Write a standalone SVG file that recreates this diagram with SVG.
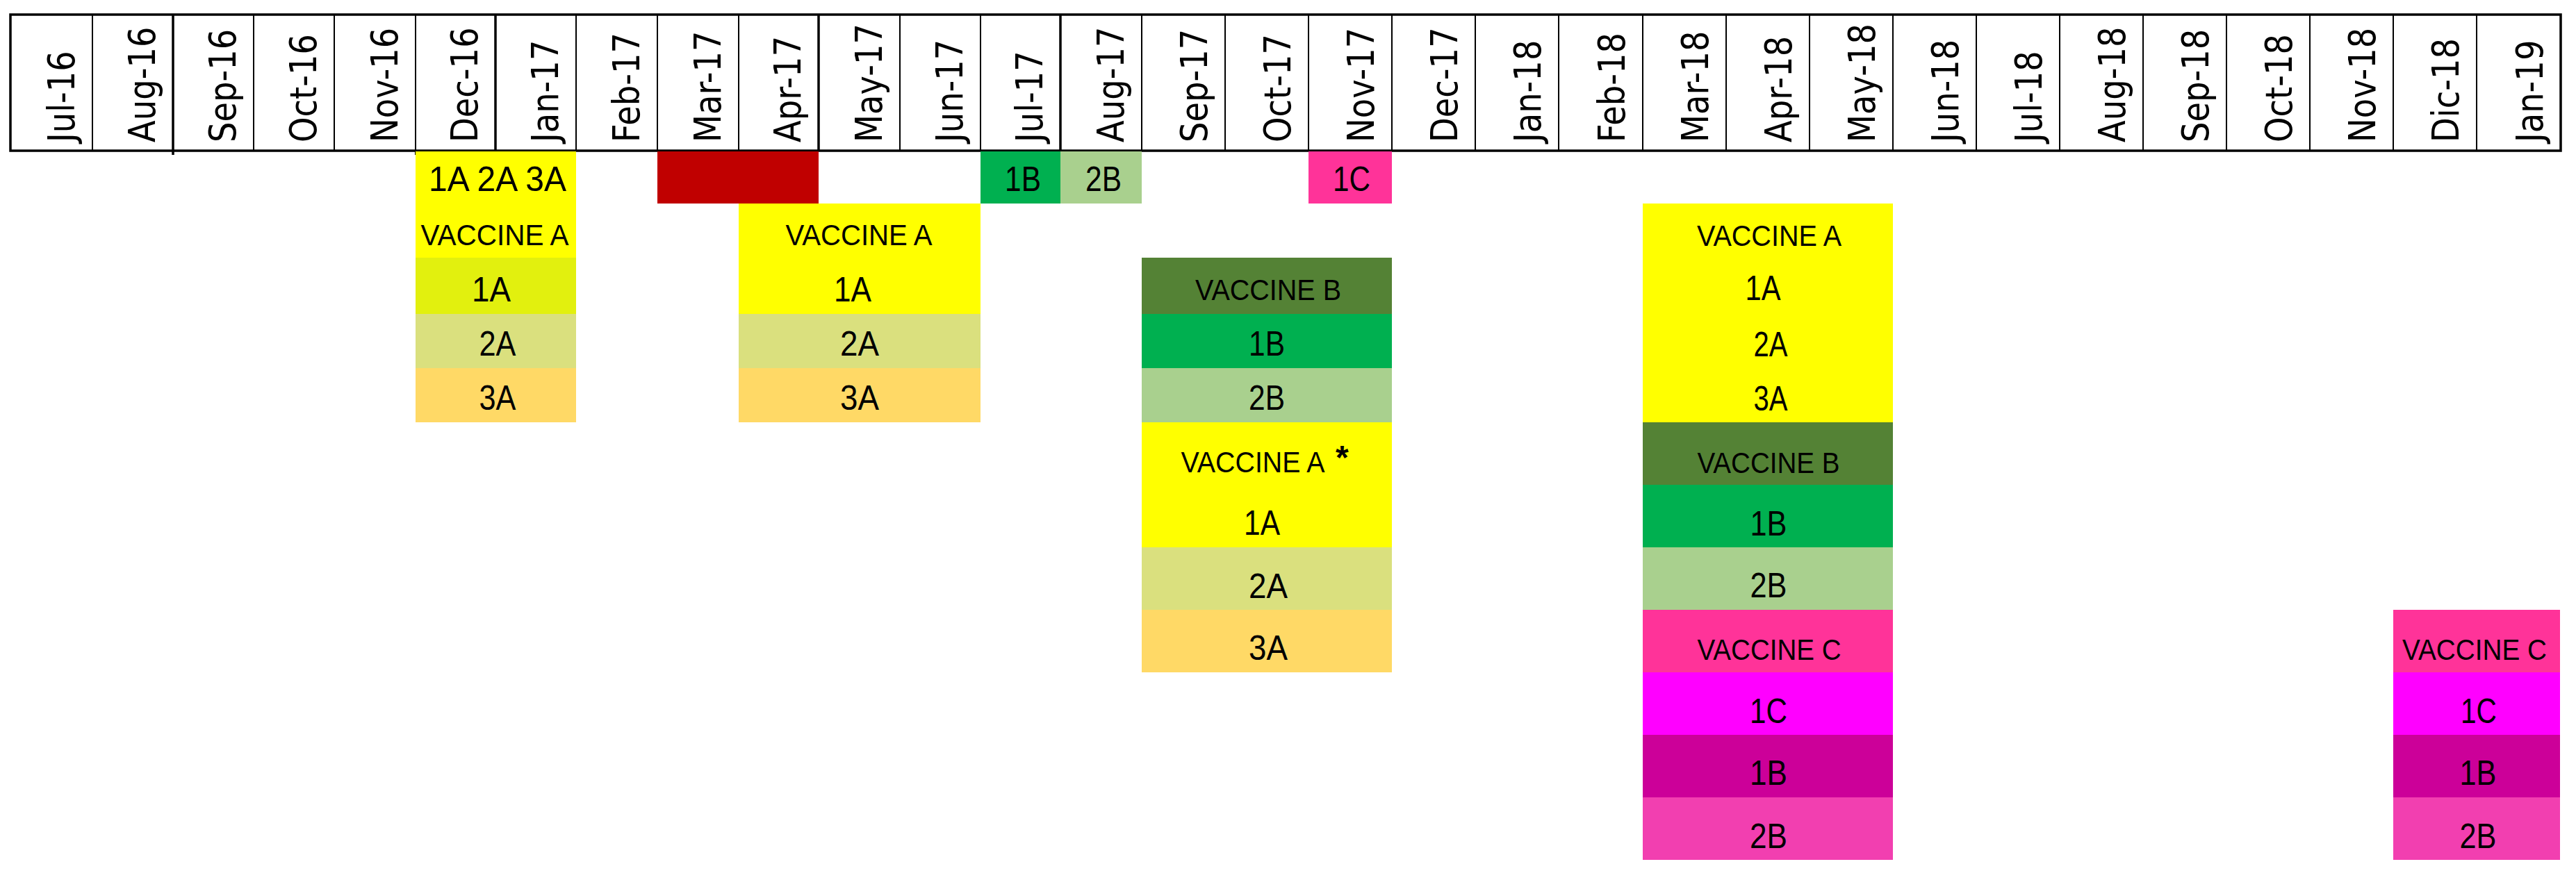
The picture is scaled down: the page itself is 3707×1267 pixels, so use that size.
<svg xmlns="http://www.w3.org/2000/svg" width="3707" height="1267" viewBox="0 0 3707 1267">
<style>
.m{font-family:"DejaVu Sans","Verdana",sans-serif;font-size:54px;fill:#000}
.v{font-family:"Liberation Sans",Arial,sans-serif;font-size:42px;fill:#000;text-anchor:middle}
.d{font-family:"Liberation Sans",Arial,sans-serif;font-size:50px;fill:#000;text-anchor:middle}
.ast{font-family:"Liberation Sans",Arial,sans-serif;font-size:48px;font-weight:bold;fill:#000}
.g{stroke:#000;stroke-width:2;fill:none}
.gt{stroke:#000;stroke-width:3.5;fill:none}
.Y{fill:#FFFF00}.Y1{fill:#E2F00E}.A2{fill:#DAE07E}.A3{fill:#FFD966}
.R{fill:#C00000}.B1{fill:#00B050}.B2{fill:#A9D08E}.VB{fill:#548235}
.P{fill:#FF3399}.M{fill:#FF00FF}.DM{fill:#CC0099}.LP{fill:#F23FB0}
</style>
<rect width="3707" height="1267" fill="#fff"/>

<g id="header">
  <g class="g">
    <line x1="133" y1="21" x2="133" y2="217"/>
    <line x1="365" y1="21" x2="365" y2="217"/>
    <line x1="481" y1="21" x2="481" y2="217"/>
    <line x1="598" y1="21" x2="598" y2="217"/>
    <line x1="829" y1="21" x2="829" y2="217"/>
    <line x1="946" y1="21" x2="946" y2="217"/>
    <line x1="1063" y1="21" x2="1063" y2="217"/>
    <line x1="1295" y1="21" x2="1295" y2="217"/>
    <line x1="1411" y1="21" x2="1411" y2="217"/>
    <line x1="1643" y1="21" x2="1643" y2="217"/>
    <line x1="1763" y1="21" x2="1763" y2="217"/>
    <line x1="1883" y1="21" x2="1883" y2="217"/>
    <line x1="2003" y1="21" x2="2003" y2="217"/>
    <line x1="2123" y1="21" x2="2123" y2="217"/>
    <line x1="2243" y1="21" x2="2243" y2="217"/>
    <line x1="2364" y1="21" x2="2364" y2="217"/>
    <line x1="2484" y1="21" x2="2484" y2="217"/>
    <line x1="2604" y1="21" x2="2604" y2="217"/>
    <line x1="2724" y1="21" x2="2724" y2="217"/>
    <line x1="2844" y1="21" x2="2844" y2="217"/>
    <line x1="2964" y1="21" x2="2964" y2="217"/>
    <line x1="3084" y1="21" x2="3084" y2="217"/>
    <line x1="3204" y1="21" x2="3204" y2="217"/>
    <line x1="3324" y1="21" x2="3324" y2="217"/>
    <line x1="3444" y1="21" x2="3444" y2="217"/>
    <line x1="3564" y1="21" x2="3564" y2="217"/>
    <line x1="598" y1="217" x2="598" y2="223"/>
    <line x1="1063" y1="217" x2="1063" y2="223"/>
  </g>
  <g class="gt">
    <line x1="249" y1="21" x2="249" y2="223"/>
    <line x1="713" y1="21" x2="713" y2="223"/>
    <line x1="1178" y1="21" x2="1178" y2="217"/>
    <line x1="1526" y1="21" x2="1526" y2="223"/>
    <rect x="15" y="21" width="3670" height="196"/>
  </g>
  <g id="months">
    <text class="m" transform="translate(107,205) rotate(-90) scale(0.86,1)">Jul-16</text>
    <text class="m" transform="translate(223,205) rotate(-90) scale(0.86,1)">Aug-16</text>
    <text class="m" transform="translate(339,205) rotate(-90) scale(0.86,1)">Sep-16</text>
    <text class="m" transform="translate(455,205) rotate(-90) scale(0.86,1)">Oct-16</text>
    <text class="m" transform="translate(572,205) rotate(-90) scale(0.86,1)">Nov-16</text>
    <text class="m" transform="translate(687,205) rotate(-90) scale(0.86,1)">Dec-16</text>
    <text class="m" transform="translate(803,205) rotate(-90) scale(0.86,1)">Jan-17</text>
    <text class="m" transform="translate(920,205) rotate(-90) scale(0.86,1)">Feb-17</text>
    <text class="m" transform="translate(1037,205) rotate(-90) scale(0.86,1)">Mar-17</text>
    <text class="m" transform="translate(1152,205) rotate(-90) scale(0.86,1)">Apr-17</text>
    <text class="m" transform="translate(1269,205) rotate(-90) scale(0.86,1)">May-17</text>
    <text class="m" transform="translate(1385,205) rotate(-90) scale(0.86,1)">Jun-17</text>
    <text class="m" transform="translate(1500,205) rotate(-90) scale(0.86,1)">Jul-17</text>
    <text class="m" transform="translate(1617,205) rotate(-90) scale(0.86,1)">Aug-17</text>
    <text class="m" transform="translate(1737,205) rotate(-90) scale(0.86,1)">Sep-17</text>
    <text class="m" transform="translate(1857,205) rotate(-90) scale(0.86,1)">Oct-17</text>
    <text class="m" transform="translate(1977,205) rotate(-90) scale(0.86,1)">Nov-17</text>
    <text class="m" transform="translate(2097,205) rotate(-90) scale(0.86,1)">Dec-17</text>
    <text class="m" transform="translate(2217,205) rotate(-90) scale(0.86,1)">Jan-18</text>
    <text class="m" transform="translate(2338,205) rotate(-90) scale(0.86,1)">Feb-18</text>
    <text class="m" transform="translate(2458,205) rotate(-90) scale(0.86,1)">Mar-18</text>
    <text class="m" transform="translate(2578,205) rotate(-90) scale(0.86,1)">Apr-18</text>
    <text class="m" transform="translate(2698,205) rotate(-90) scale(0.86,1)">May-18</text>
    <text class="m" transform="translate(2818,205) rotate(-90) scale(0.86,1)">Jun-18</text>
    <text class="m" transform="translate(2938,205) rotate(-90) scale(0.86,1)">Jul-18</text>
    <text class="m" transform="translate(3058,205) rotate(-90) scale(0.86,1)">Aug-18</text>
    <text class="m" transform="translate(3178,205) rotate(-90) scale(0.86,1)">Sep-18</text>
    <text class="m" transform="translate(3298,205) rotate(-90) scale(0.86,1)">Oct-18</text>
    <text class="m" transform="translate(3418,205) rotate(-90) scale(0.86,1)">Nov-18</text>
    <text class="m" transform="translate(3538,205) rotate(-90) scale(0.86,1)">Dic-18</text>
    <text class="m" transform="translate(3659,205) rotate(-90) scale(0.86,1)">Jan-19</text>
  </g>
</g>

<g id="connectors"></g>

<g id="row1-1A2A3A"><rect class="Y" x="598" y="218" width="231" height="75"/><text class="d" x="716" y="275" textLength="198" lengthAdjust="spacingAndGlyphs">1A 2A 3A</text></g>
<g id="row1-red"><rect class="R" x="946" y="218" width="232" height="75"/></g>
<g id="row1-1B"><rect class="B1" x="1411" y="218" width="115" height="75"/><text class="d" x="1472" y="275" textLength="52" lengthAdjust="spacingAndGlyphs">1B</text></g>
<g id="row1-2B"><rect class="B2" x="1526" y="218" width="117" height="75"/><text class="d" x="1588" y="275" textLength="52" lengthAdjust="spacingAndGlyphs">2B</text></g>
<g id="row1-1C"><rect class="P" x="1883" y="218" width="120" height="75"/><text class="d" x="1945" y="275" textLength="54" lengthAdjust="spacingAndGlyphs">1C</text></g>

<g id="col-dec16">
  <rect class="Y" x="598" y="293" width="231" height="78"/>
  <text class="v" x="712" y="353" textLength="213" lengthAdjust="spacingAndGlyphs">VACCINE A</text>
  <rect class="Y1" x="598" y="371" width="231" height="81"/>
  <text class="d" x="707" y="434" textLength="56" lengthAdjust="spacingAndGlyphs">1A</text>
  <rect class="A2" x="598" y="452" width="231" height="78"/>
  <text class="d" x="716" y="512" textLength="53" lengthAdjust="spacingAndGlyphs">2A</text>
  <rect class="A3" x="598" y="530" width="231" height="78"/>
  <text class="d" x="716" y="590" textLength="53" lengthAdjust="spacingAndGlyphs">3A</text>
</g>

<g id="col-apr17">
  <rect class="Y" x="1063" y="293" width="348" height="159"/>
  <text class="v" x="1236" y="353" textLength="211" lengthAdjust="spacingAndGlyphs">VACCINE A</text>
  <text class="d" x="1227" y="434" textLength="54" lengthAdjust="spacingAndGlyphs">1A</text>
  <rect class="A2" x="1063" y="452" width="348" height="78"/>
  <text class="d" x="1237" y="512" textLength="56" lengthAdjust="spacingAndGlyphs">2A</text>
  <rect class="A3" x="1063" y="530" width="348" height="78"/>
  <text class="d" x="1237" y="590" textLength="56" lengthAdjust="spacingAndGlyphs">3A</text>
</g>

<g id="col-sep17">
  <rect class="VB" x="1643" y="371" width="360" height="81"/>
  <text class="v" x="1825" y="432" textLength="210" lengthAdjust="spacingAndGlyphs">VACCINE B</text>
  <rect class="B1" x="1643" y="452" width="360" height="78"/>
  <text class="d" x="1823" y="512" textLength="52" lengthAdjust="spacingAndGlyphs">1B</text>
  <rect class="B2" x="1643" y="530" width="360" height="78"/>
  <text class="d" x="1823" y="590" textLength="52" lengthAdjust="spacingAndGlyphs">2B</text>
  <rect class="Y" x="1643" y="608" width="360" height="180"/>
  <text class="v" x="1803" y="680" textLength="207" lengthAdjust="spacingAndGlyphs">VACCINE A</text>
  <text class="ast" x="1922" y="675">*</text>
  <text class="d" x="1816" y="770" textLength="52" lengthAdjust="spacingAndGlyphs">1A</text>
  <rect class="A2" x="1643" y="788" width="360" height="90"/>
  <text class="d" x="1825" y="861" textLength="56" lengthAdjust="spacingAndGlyphs">2A</text>
  <rect class="A3" x="1643" y="878" width="360" height="90"/>
  <text class="d" x="1825" y="950" textLength="56" lengthAdjust="spacingAndGlyphs">3A</text>
</g>

<g id="col-mar18">
  <rect class="Y" x="2364" y="293" width="360" height="315"/>
  <text class="v" x="2546" y="354" textLength="208" lengthAdjust="spacingAndGlyphs">VACCINE A</text>
  <text class="d" x="2537" y="432" textLength="51" lengthAdjust="spacingAndGlyphs">1A</text>
  <text class="d" x="2548" y="513" textLength="49" lengthAdjust="spacingAndGlyphs">2A</text>
  <text class="d" x="2548" y="591" textLength="49" lengthAdjust="spacingAndGlyphs">3A</text>
  <rect class="VB" x="2364" y="608" width="360" height="90"/>
  <text class="v" x="2545" y="681" textLength="205" lengthAdjust="spacingAndGlyphs">VACCINE B</text>
  <rect class="B1" x="2364" y="698" width="360" height="90"/>
  <text class="d" x="2545" y="771" textLength="53" lengthAdjust="spacingAndGlyphs">1B</text>
  <rect class="B2" x="2364" y="788" width="360" height="90"/>
  <text class="d" x="2545" y="860" textLength="53" lengthAdjust="spacingAndGlyphs">2B</text>
  <rect class="P" x="2364" y="878" width="360" height="90"/>
  <text class="v" x="2546" y="950" textLength="207" lengthAdjust="spacingAndGlyphs">VACCINE C</text>
  <rect class="M" x="2364" y="968" width="360" height="90"/>
  <text class="d" x="2545" y="1041" textLength="54" lengthAdjust="spacingAndGlyphs">1C</text>
  <rect class="DM" x="2364" y="1058" width="360" height="90"/>
  <text class="d" x="2545" y="1130" textLength="54" lengthAdjust="spacingAndGlyphs">1B</text>
  <rect class="LP" x="2364" y="1148" width="360" height="90"/>
  <text class="d" x="2545" y="1221" textLength="54" lengthAdjust="spacingAndGlyphs">2B</text>
</g>

<g id="col-dic18">
  <rect class="P" x="3444" y="878" width="240" height="90"/>
  <text class="v" x="3561" y="950" textLength="208" lengthAdjust="spacingAndGlyphs">VACCINE C</text>
  <rect class="M" x="3444" y="968" width="240" height="90"/>
  <text class="d" x="3567" y="1041" textLength="52" lengthAdjust="spacingAndGlyphs">1C</text>
  <rect class="DM" x="3444" y="1058" width="240" height="90"/>
  <text class="d" x="3566" y="1130" textLength="53" lengthAdjust="spacingAndGlyphs">1B</text>
  <rect class="LP" x="3444" y="1148" width="240" height="90"/>
  <text class="d" x="3566" y="1221" textLength="53" lengthAdjust="spacingAndGlyphs">2B</text>
</g>
</svg>
